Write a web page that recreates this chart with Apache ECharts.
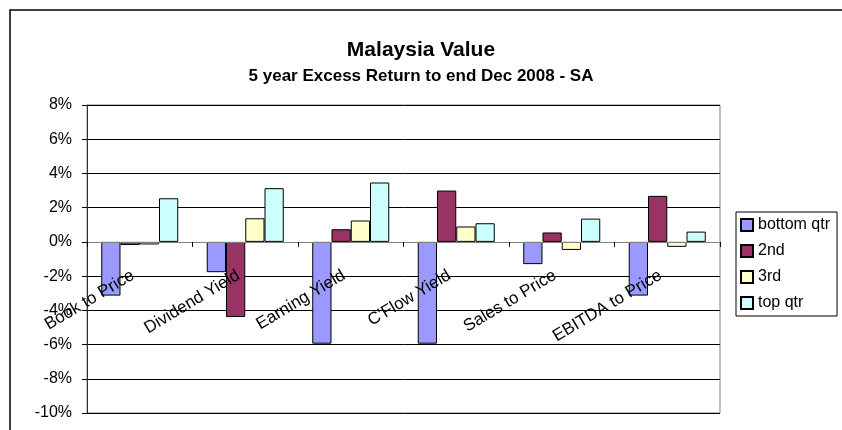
<!DOCTYPE html>
<html>
<head>
<meta charset="utf-8">
<script src="https://cdn.jsdelivr.net/npm/echarts@6/dist/echarts.min.js"></script>
<style>
  html, body { margin: 0; padding: 0; background: #fff; }
  #chart { width: 842px; height: 430px; }
</style>
</head>
<body>
<div id="chart"></div>
<script>
// categories and quartile returns (% excess return)
const categories = ['Book to Price', 'Dividend Yield', 'Earning Yield', "C'Flow Yield", 'Sales to Price', 'EBITDA to Price'];
const bottomQtr = [-3.14, -1.77, -5.95, -5.95, -1.3, -3.14];
const second    = [-0.18, -4.39, 0.74, 3.0, 0.55, 2.69];
const third     = [-0.15, 1.38, 1.25, 0.9, -0.47, -0.29];
const topQtr    = [2.55, 3.14, 3.47, 1.09, 1.36, 0.6];
const seriesNames = ['bottom qtr', '2nd', '3rd', 'top qtr'];
const seriesColors = ['#9999FF', '#993366', '#FFFFCC', '#CCFFFF'];

const yMin = -10, yMax = 8;
const font = '"Liberation Sans", Arial, sans-serif';
const gridTop = 105, gridBottom = 17;
const plotH = 430 - gridTop - gridBottom;
// shift the category axis up from the plot bottom to the 0% line
const zeroOffset = -plotH * (0 - yMin) / (yMax - yMin);

const chart = echarts.init(document.getElementById('chart'), null, { renderer: 'canvas' });

const makeBar = (name, data, color) => ({
  name,
  type: 'bar',
  data,
  barGap: '0%',
  barCategoryGap: '27%',
  itemStyle: { color, borderColor: '#000', borderWidth: 1 },
  emphasis: { disabled: true },
});

chart.setOption({
  animation: false,
  backgroundColor: '#fff',
  textStyle: { fontFamily: font },
  title: [
    {
      text: 'Malaysia Value',
      left: 'center',
      top: 35,
      textStyle: { fontFamily: font, fontSize: 21, fontWeight: 'bold', color: '#000' },
    },
    {
      text: '5 year Excess Return to end Dec 2008 - SA',
      left: 'center',
      top: 63,
      textStyle: { fontFamily: font, fontSize: 17, fontWeight: 'bold', color: '#000' },
    },
  ],
  graphic: [
    {
      type: 'rect',
      shape: { x: 10, y: 10, width: 840, height: 440 },
      style: { fill: 'none', stroke: '#000', lineWidth: 1.5 },
      silent: true,
    },
  ],
  legend: {
    orient: 'vertical',
    left: 736,
    top: 212,
    data: seriesNames,
    itemWidth: 12,
    itemHeight: 12,
    itemGap: 10,
    padding: [5, 7, 5, 4],
    borderColor: '#000',
    borderWidth: 1,
    icon: 'rect',
    textStyle: { fontFamily: font, fontSize: 16, color: '#000' },
  },
  grid: {
    left: 87,
    right: 122,
    top: gridTop,
    bottom: gridBottom,
    outerBoundsMode: 'none',
    containLabel: false,
    show: true,
    borderColor: '#808080',
    borderWidth: 1,
  },
  xAxis: {
    type: 'category',
    data: categories,
    z: 5,
    offset: zeroOffset,
    axisLine: { onZero: false, lineStyle: { color: '#808080', width: 1 } },
    axisTick: { show: true, length: 5, lineStyle: { color: '#000' } },
    axisLabel: {
      rotate: 31,
      margin: 28,
      padding: [0, 8, 0, 0],
      fontFamily: font,
      fontSize: 17,
      color: '#000',
      interval: 0,
    },
    splitLine: { show: false },
  },
  yAxis: {
    type: 'value',
    min: yMin,
    max: yMax,
    interval: 2,
    axisLine: { show: true, lineStyle: { color: '#333', width: 1 } },
    axisTick: { show: true, length: 5, lineStyle: { color: '#000' } },
    axisLabel: {
      formatter: '{value}%',
      margin: 15,
      fontFamily: font,
      fontSize: 16,
      color: '#000',
    },
    splitLine: { lineStyle: { color: '#000', width: 1 } },
  },
  series: [
    makeBar(seriesNames[0], bottomQtr, seriesColors[0]),
    makeBar(seriesNames[1], second, seriesColors[1]),
    makeBar(seriesNames[2], third, seriesColors[2]),
    makeBar(seriesNames[3], topQtr, seriesColors[3]),
  ],
});
</script>
</body>
</html>
